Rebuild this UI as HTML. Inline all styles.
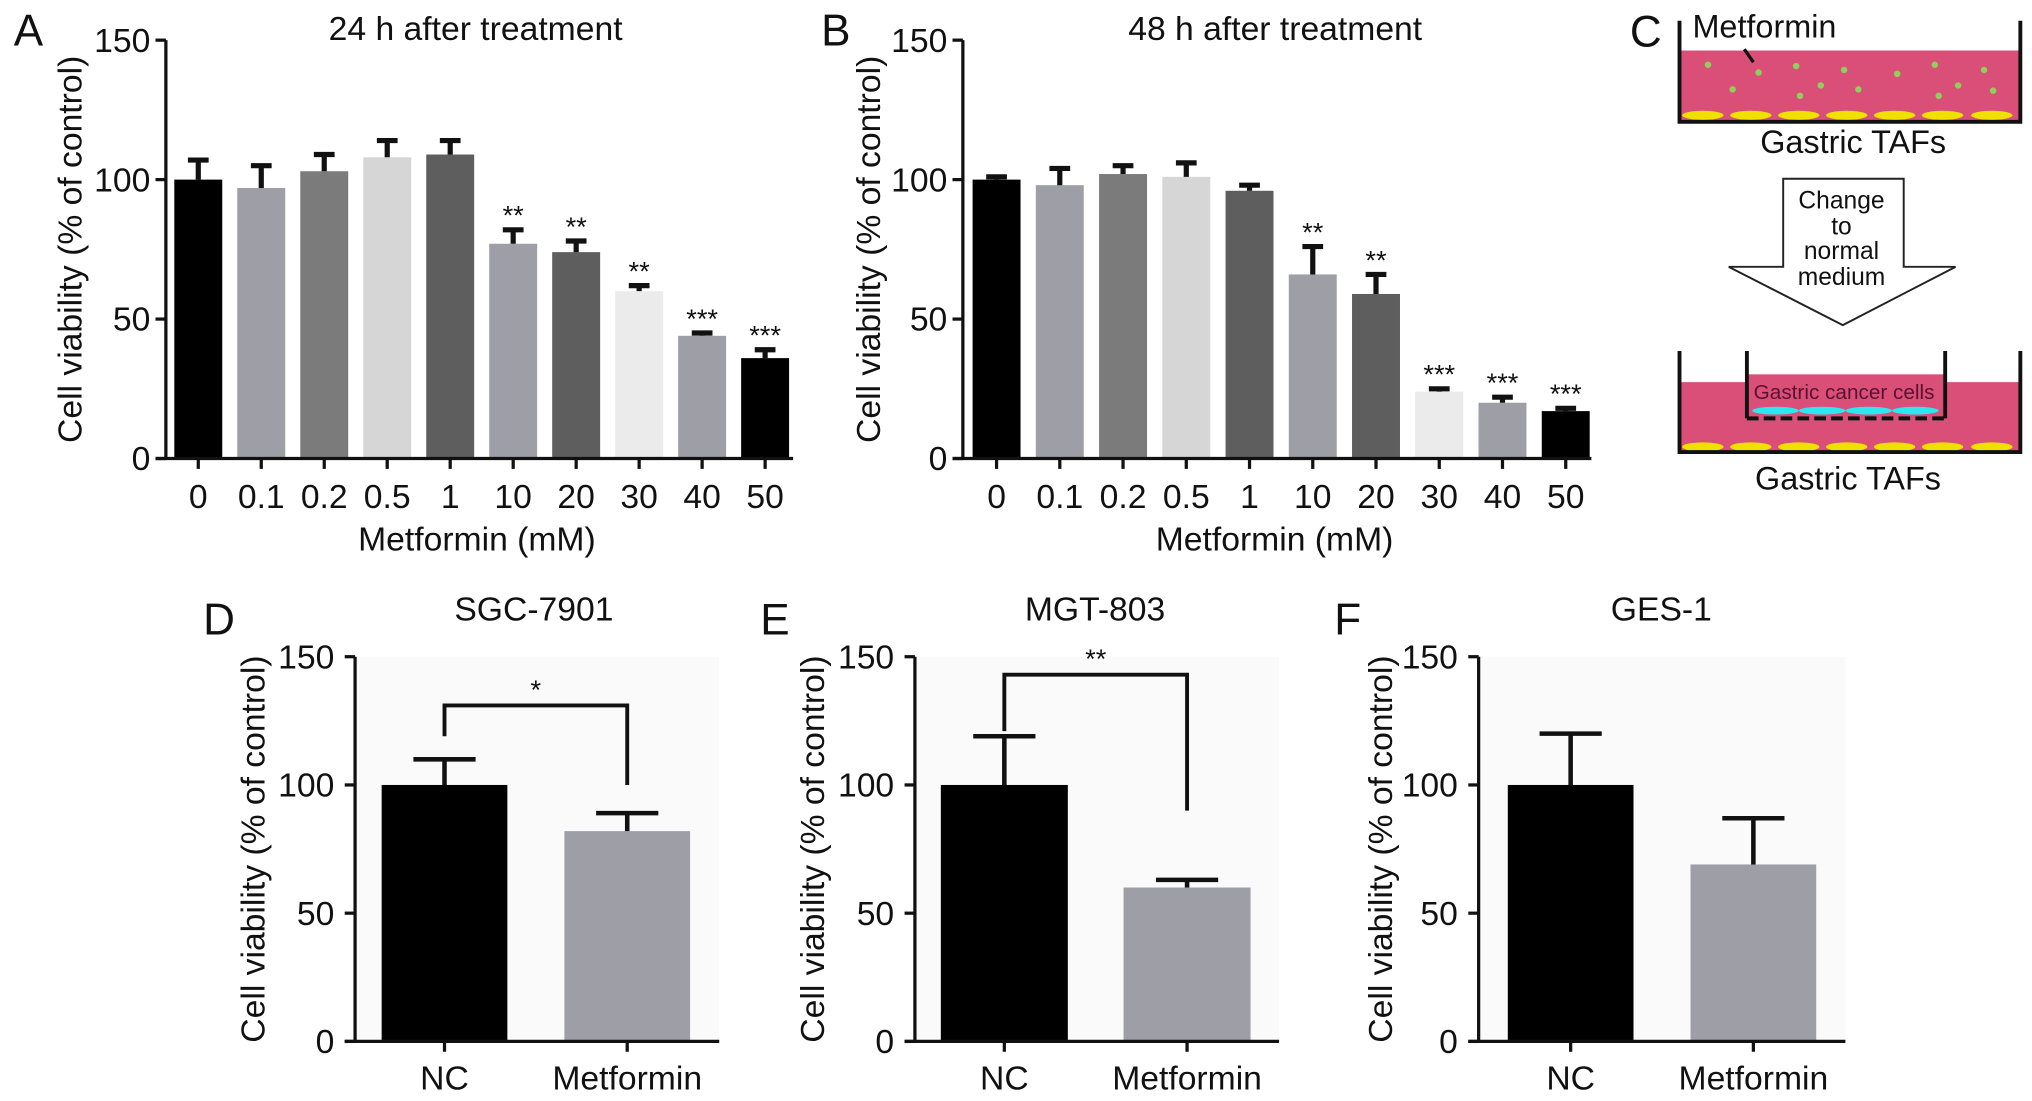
<!DOCTYPE html>
<html><head><meta charset="utf-8">
<style>
html,body{margin:0;padding:0;background:#fff;}
svg{display:block;}
text{font-family:"Liberation Sans",sans-serif;fill:#111;}
</style></head>
<body>
<svg id="fig" width="2032" height="1101" viewBox="0 0 1568 850" preserveAspectRatio="none" xmlns="http://www.w3.org/2000/svg">
<g id="diagram">
  <text x="1270" y="36" font-size="34" text-anchor="middle">C</text>
  <rect x="1297" y="39" width="261" height="54" fill="#d94f78"/>
  <g fill="#f0e000">
    <ellipse cx="1314" cy="89" rx="16" ry="3.5"/><ellipse cx="1351" cy="89" rx="16" ry="3.5"/><ellipse cx="1388" cy="89" rx="16" ry="3.5"/><ellipse cx="1425" cy="89" rx="16" ry="3.5"/><ellipse cx="1462" cy="89" rx="16" ry="3.5"/><ellipse cx="1499" cy="89" rx="16" ry="3.5"/><ellipse cx="1537" cy="89" rx="16" ry="3.5"/>
  </g>
  <g fill="#8fcf5a">
    <circle cx="1318" cy="50" r="2.5"/><circle cx="1357" cy="56" r="2.5"/><circle cx="1337" cy="69" r="2.5"/><circle cx="1386" cy="51" r="2.5"/><circle cx="1389" cy="74" r="2.5"/><circle cx="1405" cy="66" r="2.5"/><circle cx="1423" cy="54" r="2.5"/><circle cx="1434" cy="69" r="2.5"/><circle cx="1464" cy="57" r="2.5"/><circle cx="1493" cy="50" r="2.5"/><circle cx="1496" cy="74" r="2.5"/><circle cx="1511" cy="66" r="2.5"/><circle cx="1531" cy="54" r="2.5"/><circle cx="1538" cy="70" r="2.5"/>
  </g>
  <path d="M1296 16 V94 H1559 V16" fill="none" stroke="#111" stroke-width="3"/>
  <line x1="1346" y1="38" x2="1353" y2="48" stroke="#111" stroke-width="2.5"/>
  <text x="1306" y="29" font-size="25">Metformin</text>
  <text x="1430" y="118" font-size="25" text-anchor="middle">Gastric TAFs</text>
  <path d="M1376 138 H1469 V206 H1509 L1422 251 L1334 206 H1376 Z" fill="#fff" stroke="#222" stroke-width="1.5"/>
  <g font-size="19" text-anchor="middle">
    <text x="1421" y="161">Change</text><text x="1421" y="181">to</text><text x="1421" y="200">normal</text><text x="1421" y="220">medium</text>
  </g>
  <rect x="1297" y="295" width="261" height="53" fill="#d94f78"/>
  <rect x="1348" y="289" width="153" height="33" fill="#d94f78"/>
  <g fill="#2ee6ee">
    <ellipse cx="1370" cy="317" rx="18" ry="3"/><ellipse cx="1406" cy="317" rx="18" ry="3"/><ellipse cx="1442" cy="317" rx="18" ry="3"/><ellipse cx="1478" cy="317" rx="18" ry="3"/>
  </g>
  <g fill="#f0e000">
    <ellipse cx="1314" cy="345" rx="16" ry="3.5"/><ellipse cx="1351" cy="345" rx="16" ry="3.5"/><ellipse cx="1388" cy="345" rx="16" ry="3.5"/><ellipse cx="1425" cy="345" rx="16" ry="3.5"/><ellipse cx="1462" cy="345" rx="16" ry="3.5"/><ellipse cx="1499" cy="345" rx="16" ry="3.5"/><ellipse cx="1537" cy="345" rx="16" ry="3.5"/>
  </g>
  <path d="M1296 271 V349 H1559 V271" fill="none" stroke="#111" stroke-width="3"/>
  <path d="M1348 271 V323" fill="none" stroke="#111" stroke-width="3"/>
  <path d="M1501 271 V323" fill="none" stroke="#111" stroke-width="3"/>
  <line x1="1348" y1="323" x2="1501" y2="323" stroke="#111" stroke-width="3" stroke-dasharray="9 4"/>
  <text x="1423" y="308" font-size="16" text-anchor="middle" style="fill:#5a1030">Gastric cancer cells</text>
  <text x="1426" y="378" font-size="25" text-anchor="middle">Gastric TAFs</text>
</g>
</svg>
<script>
// ---- data ----
const doseCats = ["0","0.1","0.2","0.5","1","10","20","30","40","50"];
const a24Values = [100,97,103,108,109,77,74,60,44,36];
const a24Errors = [7,8,6,6,5,5,4,2,1,3];
const a24Stars = ["","","","","","**","**","**","***","***"];
const b48Values = [100,98,102,101,96,66,59,24,20,17];
const b48Errors = [1,6,3,5,2,10,7,1,2,1];
const b48Stars = ["","","","","","**","**","***","***","***"];
const doseColors = ["#000","#9e9ea6","#7b7b7b","#d6d6d6","#5e5e5e","#9e9ea6","#5e5e5e","#ebebeb","#9e9ea6","#000"];
const ncCats = ["NC","Metformin"];
const dValues = [100,82];
const dErrors = [10,7];
const eValues = [100,60];
const eErrors = [19,3];
const fValues = [100,69];
const fErrors = [20,18];
const yTicks = [0,50,100,150];

const svg = document.getElementById('fig');
const NS = "http://www.w3.org/2000/svg";
function mk(tag, attrs, parent){
  const el = document.createElementNS(NS, tag);
  for (const k in attrs) el.setAttribute(k, attrs[k]);
  (parent||svg).appendChild(el);
  return el;
}
function txt(s, x, y, size, anchor, parent){
  const t = mk('text', {x:x, y:y, 'font-size':size, 'text-anchor':anchor||'middle'}, parent);
  t.textContent = s;
  return t;
}

function panel(o){
  const g = mk('g', {});
  
  
  const yS = v => o.y0 - (v/150)*(o.y0 - o.y150);
  const xS = i => o.xStart + i*o.step;
  if (o.bg){
    const bg = mk('rect', {x:o.ax, y:o.y150, width:o.axEnd-o.ax, height:o.y0-o.y150, fill:'#fafafa'}, g);
    
    
  }
  const l = txt(o.letter, o.letterX, o.letterY, 34, 'middle', g);
  
  
  const ti = txt(o.title, o.titleX, o.titleY, 26, 'middle', g);
  
  
  o.values.forEach((v, i) => {
    const cx = xS(i);
    const r = mk('rect', {x:cx-o.bw/2, y:yS(v), width:o.bw, height:o.y0-yS(v), fill:o.colors[i]}, g);
    
    
    const e = o.errors[i];
    const eg = mk('path', {d:`M${cx} ${yS(v)} V${yS(v+e)} M${cx-o.cap} ${yS(v+e)} H${cx+o.cap}`, stroke:'#111', 'stroke-width':o.ew, fill:'none'}, g);
    
    
    if (o.stars && o.stars[i]){
      const s = txt(o.stars[i], cx, yS(v+e)-4, 21, 'middle', g);
      
      
    }
    const tk = mk('line', {x1:cx, y1:o.y0, x2:cx, y2:o.y0+8, stroke:'#111', 'stroke-width':2.5}, g);
    
    
    const xl = txt(o.cats[i], cx, o.xLabY, 26, 'middle', g);
    
    
  });
  const ya = mk('line', {x1:o.ax, y1:o.y0+1, x2:o.ax, y2:o.y150, stroke:'#111', 'stroke-width':2.5}, g);
  
  
  const xa = mk('line', {x1:o.ax-8, y1:o.y0, x2:o.axEnd, y2:o.y0, stroke:'#111', 'stroke-width':2.5}, g);
  
  
  yTicks.forEach(t => {
    const tk = mk('line', {x1:o.ax-8, y1:yS(t), x2:o.ax, y2:yS(t), stroke:'#111', 'stroke-width':2.5}, g);
    
    
    const tl = txt(String(t), o.ax-o.tickGap, yS(t)+9, 26, 'end', g);
    
    
  });
  const yl = txt('Cell viability (% of control)', 0, 0, 26, 'middle', g);
  yl.setAttribute('transform', `translate(${o.yLabX},${(o.y0+o.y150)/2}) rotate(-90)`);
  
  
  if (o.xTitle){
    const xt = txt(o.xTitle, (o.ax+o.axEnd)/2-2, o.xTitleY, 26, 'middle', g);
    
    
  }
  if (o.bracket){
    const b = o.bracket;
    const y = yS(b.level);
    const x1 = xS(0), x2 = xS(1);
    const p = mk('path', {d:`M${x1} ${yS(b.leftEnd)} V${y} H${x2} V${yS(b.rightEnd)}`, stroke:'#111', 'stroke-width':3, fill:'none'}, g);
    
    
    const s = txt(b.label, (x1+x2)/2, y-5, 21, 'middle', g);
    
    
  }
}

panel({name:'panel-a-24h-chart', letter:'A', letterX:22, letterY:35, title:'24 h after treatment', titleX:367, titleY:31,
  ax:128, axEnd:612, y0:354, y150:31, xStart:153, step:48.6, bw:37, cap:8, ew:4, tickGap:12,
  cats:doseCats, values:a24Values, errors:a24Errors, stars:a24Stars, colors:doseColors,
  xLabY:392, xTitle:'Metformin (mM)', xTitleY:425, yLabX:63});
panel({name:'panel-b-48h-chart', letter:'B', letterX:645, letterY:35, title:'48 h after treatment', titleX:984, titleY:31,
  ax:743, axEnd:1228, y0:354, y150:31, xStart:769, step:48.8, bw:37, cap:8, ew:4, tickGap:12,
  cats:doseCats, values:b48Values, errors:b48Errors, stars:b48Stars, colors:doseColors,
  xLabY:392, xTitle:'Metformin (mM)', xTitleY:425, yLabX:679});
const ncColors = ["#000","#9e9ea6"];
panel({name:'panel-d-sgc7901-chart', letter:'D', letterX:169, letterY:490, title:'SGC-7901', titleX:412, titleY:479, bg:true,
  ax:274, axEnd:555, y0:804, y150:507, xStart:343, step:141, bw:97, cap:24, ew:3.5, tickGap:16,
  cats:ncCats, values:dValues, errors:dErrors, colors:ncColors, xLabY:841, yLabX:204,
  bracket:{level:131, leftEnd:119, rightEnd:100, label:'*'}});
panel({name:'panel-e-mgt803-chart', letter:'E', letterX:598, letterY:490, title:'MGT-803', titleX:845, titleY:479, bg:true,
  ax:706, axEnd:987, y0:804, y150:507, xStart:775, step:141, bw:98, cap:24, ew:3.5, tickGap:16,
  cats:ncCats, values:eValues, errors:eErrors, colors:ncColors, xLabY:841, yLabX:636,
  bracket:{level:143, leftEnd:121, rightEnd:90, label:'**'}});
panel({name:'panel-f-ges1-chart', letter:'F', letterX:1040, letterY:490, title:'GES-1', titleX:1282, titleY:479, bg:true,
  ax:1141, axEnd:1424, y0:804, y150:507, xStart:1212, step:141, bw:97, cap:24, ew:3.5, tickGap:16,
  cats:ncCats, values:fValues, errors:fErrors, colors:ncColors, xLabY:841, yLabX:1074});
</script>
</body></html>
